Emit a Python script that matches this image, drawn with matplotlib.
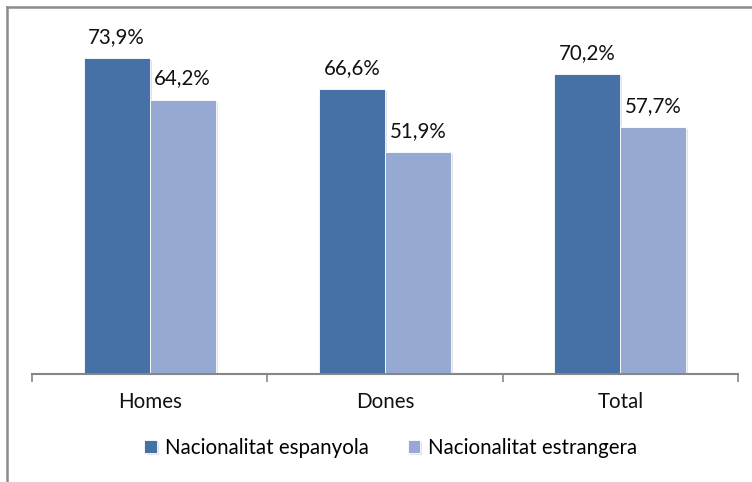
import matplotlib
matplotlib.use("Agg")
import matplotlib.pyplot as plt
import matplotlib.patheffects as pe
from matplotlib.lines import Line2D
import numpy as np

categories = ["Homes", "Dones", "Total"]
series_names = ["Nacionalitat espanyola", "Nacionalitat estrangera"]
espanyola = [73.9, 66.6, 70.2]
estrangera = [64.2, 51.9, 57.7]
colors = ["#4571A7", "#95A9D2"]

plt.rcParams['font.family'] = ['Lato', 'DejaVu Sans']

fig = plt.figure(figsize=(7.52, 4.82), dpi=100)
W, H = 752, 482
ax = fig.add_axes([32 / W, (H - 374) / H, (738 - 32) / W, 342 / H])

x = np.arange(len(categories))
bw = 0.28
shadow = [pe.SimplePatchShadow(offset=(1.5, -1.5), shadow_rgbFace='#a0a0a0', alpha=0.3), pe.Normal()]
b1 = ax.bar(x - bw / 2, espanyola, bw, color=colors[0], edgecolor='white', linewidth=0.6,
            label=series_names[0], path_effects=shadow)
b2 = ax.bar(x + bw / 2, estrangera, bw, color=colors[1], edgecolor='white', linewidth=0.6,
            label=series_names[1], path_effects=shadow)

fs = 14.8
for bars, vals in ((b1, espanyola), (b2, estrangera)):
    for r, v in zip(bars, vals):
        ax.annotate(f"{v:.1f}%".replace('.', ','), (r.get_x() + r.get_width() / 2, v),
                    xytext=(0, 8), textcoords='offset points', ha='center', va='bottom',
                    fontsize=fs, color='#111111')

ax.set_xlim(-0.5, 2.5)
ax.set_ylim(0, 80)
for s in ['top', 'right', 'left']:
    ax.spines[s].set_visible(False)
ax.spines['bottom'].set_color('#868686')
ax.spines['bottom'].set_linewidth(1.5)
ax.set_yticks([])
ax.set_xticks([-0.5, 0.5, 1.5, 2.5])
ax.set_xticklabels([])
ax.tick_params(axis='x', which='major', length=6, width=1.2, color='#868686', direction='out')
ax.set_xticks(x, minor=True)
ax.set_xticklabels(categories, minor=True, fontsize=fs, color='#111111')
ax.tick_params(axis='x', which='minor', length=0, pad=13)

fig.legend(handles=[b1, b2], labels=series_names, loc='center', bbox_to_anchor=(0.52, 1 - 448 / H),
           ncol=2, frameon=False, fontsize=fs, handlelength=0.6, handleheight=0.6,
           handletextpad=0.4, columnspacing=1.9)

fig.add_artist(Line2D([7 / W, 7 / W], [0, 1 - 7 / H], color='#8c8c8c', linewidth=1.8, transform=fig.transFigure))
fig.add_artist(Line2D([7 / W, 1], [1 - 7 / H, 1 - 7 / H], color='#8c8c8c', linewidth=1.8, transform=fig.transFigure))

fig.savefig("out.png", dpi=100)
